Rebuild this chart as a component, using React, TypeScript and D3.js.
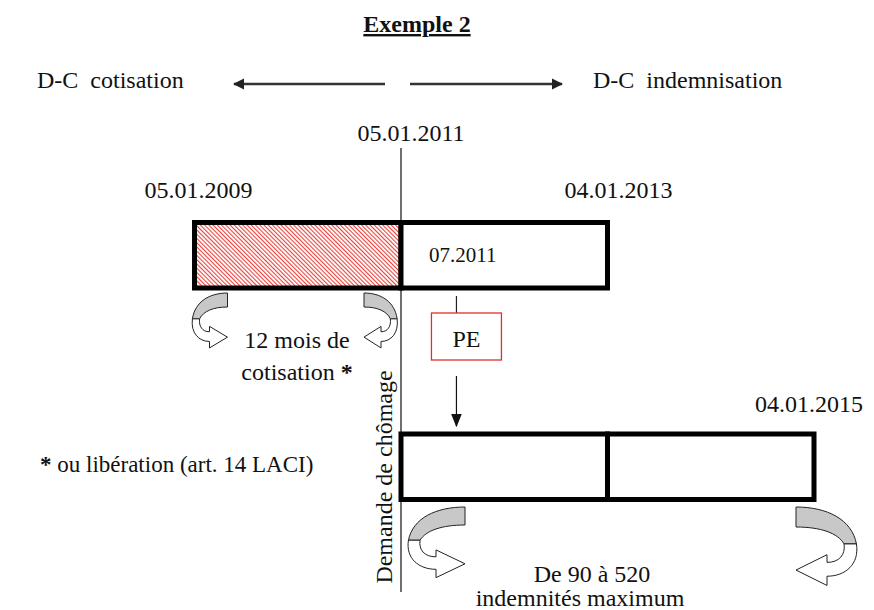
import React from 'react';
import * as d3 from 'd3';

const W = 874;
const H = 610;
const FONT = '"Liberation Serif", "Times New Roman", serif';

// timeline dates (dd.mm.yyyy)
const dateLabels = ['05.01.2009', '05.01.2011', '04.01.2013', '04.01.2015'];

// periods drawn as boxes
const rows = ['cotisation', 'indemnisation'];
const periodRows = ['cotisation', 'cotisation', 'indemnisation', 'indemnisation'];
const periodStarts = ['05.01.2009', '05.01.2011', '05.01.2011', '04.01.2013'];
const periodEnds = ['05.01.2011', '04.01.2013', '04.01.2013', '04.01.2015'];
const periodHatched = [true, false, false, false];

const directionLabels = ['D-C  cotisation', 'D-C  indemnisation'];
const peDate = '20.07.2011';
const peMonthLabel = '07.2011';
const contributionLines = ['12 mois de', 'cotisation'];
const benefitLines = ['De 90 à 520', 'indemnités maximum'];

const parse = d3.timeParse('%d.%m.%Y');
const toDate = (s: string) => parse(s) as Date;

const x = d3.scaleTime()
  .domain([toDate(dateLabels[0]), toDate(dateLabels[3])])
  .range([194.5, 814]);

const y = d3.scalePoint<string>()
  .domain(rows)
  .range([222.5, 434]);

const BOX_H = 65.5;

// curved "turn" arrow, drawn in a 40x52 box and scaled
const CurvedArrow = ({ x0, y0, w, h, flip }: { x0: number; y0: number; w: number; h: number; flip?: boolean }) => {
  const sx = w / 40;
  const sy = h / 52;
  const tr = flip
    ? `translate(${x0 + w},${y0}) scale(${-sx},${sy})`
    : `translate(${x0},${y0}) scale(${sx},${sy})`;
  return (
    <g transform={tr}>
      <path d="M40,0 C20,0 4,8 1,24 L9,24 C13,17 24,13 40,13 Z"
        fill="#c8c8c8" stroke="#222" strokeWidth={1} vectorEffect="non-scaling-stroke" />
      <path d="M1,24 C-1,37 8,45 20,45 L20,51 L40,41 L20,31 L20,36 C12,36 8,31 9,24 Z"
        fill="#fff" stroke="#222" strokeWidth={1} vectorEffect="non-scaling-stroke" />
    </g>
  );
};

export default function App() {
  const d = dateLabels.map(s => x(toDate(s)));
  const px = x(toDate(peDate));
  const txt = { fontFamily: FONT, fill: '#111' } as const;

  return (
    <svg width={W} height={H} style={{ position: 'absolute', left: 0, top: 0, background: '#fff' }}>
      <defs>
        <pattern id="hatch" patternUnits="userSpaceOnUse" width={3} height={3} patternTransform="rotate(-45)">
          <rect width={3} height={3} fill="#fff" />
          <line x1={0.6} y1={0} x2={0.6} y2={3} stroke="#e8302a" strokeWidth={1} />
        </pattern>
        <marker id="arr" viewBox="0 0 10 10" refX={9} refY={5} markerWidth={4.5} markerHeight={4.5} orient="auto">
          <path d="M0,0 L10,5 L0,10 Z" fill="#222" />
        </marker>
        <marker id="arrThin" viewBox="0 0 10 10" refX={9} refY={5} markerWidth={11} markerHeight={11} orient="auto">
          <path d="M0,1 L10,5 L0,9 Z" fill="#111" />
        </marker>
      </defs>

      {/* title */}
      <text {...txt} x={417} y={32} fontSize={24} fontWeight="bold" textAnchor="middle" textDecoration="underline">Exemple 2</text>

      {/* direction */}
      <text {...txt} x={37} y={88} fontSize={24} style={{ whiteSpace: 'pre' }}>{directionLabels[0]}</text>
      <line x1={385} y1={84} x2={234} y2={84} stroke="#333" strokeWidth={2.5} markerEnd="url(#arr)" />
      <line x1={410} y1={84} x2={562} y2={84} stroke="#333" strokeWidth={2.5} markerEnd="url(#arr)" />
      <text {...txt} x={593} y={88} fontSize={24} style={{ whiteSpace: 'pre' }}>{directionLabels[1]}</text>

      {/* claim date line */}
      <line x1={d[1]} y1={148} x2={d[1]} y2={592} stroke="#222" strokeWidth={1.3} />

      {/* date labels */}
      <text {...txt} x={d[1] + 10} y={141} fontSize={24} textAnchor="middle">{dateLabels[1]}</text>
      <text {...txt} x={d[0] + 4} y={198} fontSize={24} textAnchor="middle">{dateLabels[0]}</text>
      <text {...txt} x={d[2] + 11} y={198} fontSize={24} textAnchor="middle">{dateLabels[2]}</text>
      <text {...txt} x={d[3] - 5} y={412} fontSize={24} textAnchor="middle">{dateLabels[3]}</text>

      {/* period boxes */}
      {periodRows.map((r, i) => {
        const x0 = x(toDate(periodStarts[i]));
        const x1 = x(toDate(periodEnds[i]));
        return (
          <rect key={i} x={x0} y={y(r)} width={x1 - x0} height={BOX_H}
            fill={periodHatched[i] ? 'url(#hatch)' : '#fff'} stroke="#000" strokeWidth={5} />
        );
      })}

      <text {...txt} x={d[1] + 28} y={262} fontSize={21}>{peMonthLabel}</text>

      {/* PE */}
      <line x1={px} y1={296} x2={px} y2={313} stroke="#222" strokeWidth={1.2} />
      <rect x={px - 25} y={313} width={70} height={47} fill="#fff" stroke="#e0302a" strokeWidth={1.3} />
      <text {...txt} x={px + 10} y={347} fontSize={24} textAnchor="middle">PE</text>
      <line x1={px} y1={376} x2={px} y2={426} stroke="#111" strokeWidth={1.2} markerEnd="url(#arrThin)" />

      {/* curved arrows */}
      <CurvedArrow x0={d[0] - 3} y0={293} w={36} h={56} />
      <CurvedArrow x0={d[1] - 37} y0={293} w={34} h={56} flip />
      <CurvedArrow x0={d[1] + 6} y0={507} w={58} h={72} />
      <CurvedArrow x0={d[3] - 18} y0={507} w={62} h={80} flip />

      {/* notes */}
      <text {...txt} x={297} y={348} fontSize={24} textAnchor="middle">{contributionLines[0]}</text>
      <text {...txt} x={297} y={380} fontSize={24} textAnchor="middle">
        {contributionLines[1]} <tspan fontWeight="bold">*</tspan>
      </text>
      <text {...txt} x={40} y={472} fontSize={23}>
        <tspan fontWeight="bold">*</tspan> ou libération (art. 14 LACI)
      </text>
      <text {...txt} transform={`translate(${d[1] - 9},477) rotate(-90)`} fontSize={24} textAnchor="middle">Demande de chômage</text>
      <text {...txt} x={592} y={582} fontSize={24} textAnchor="middle">{benefitLines[0]}</text>
      <text {...txt} x={580} y={606} fontSize={24} textAnchor="middle">{benefitLines[1]}</text>
    </svg>
  );
}
